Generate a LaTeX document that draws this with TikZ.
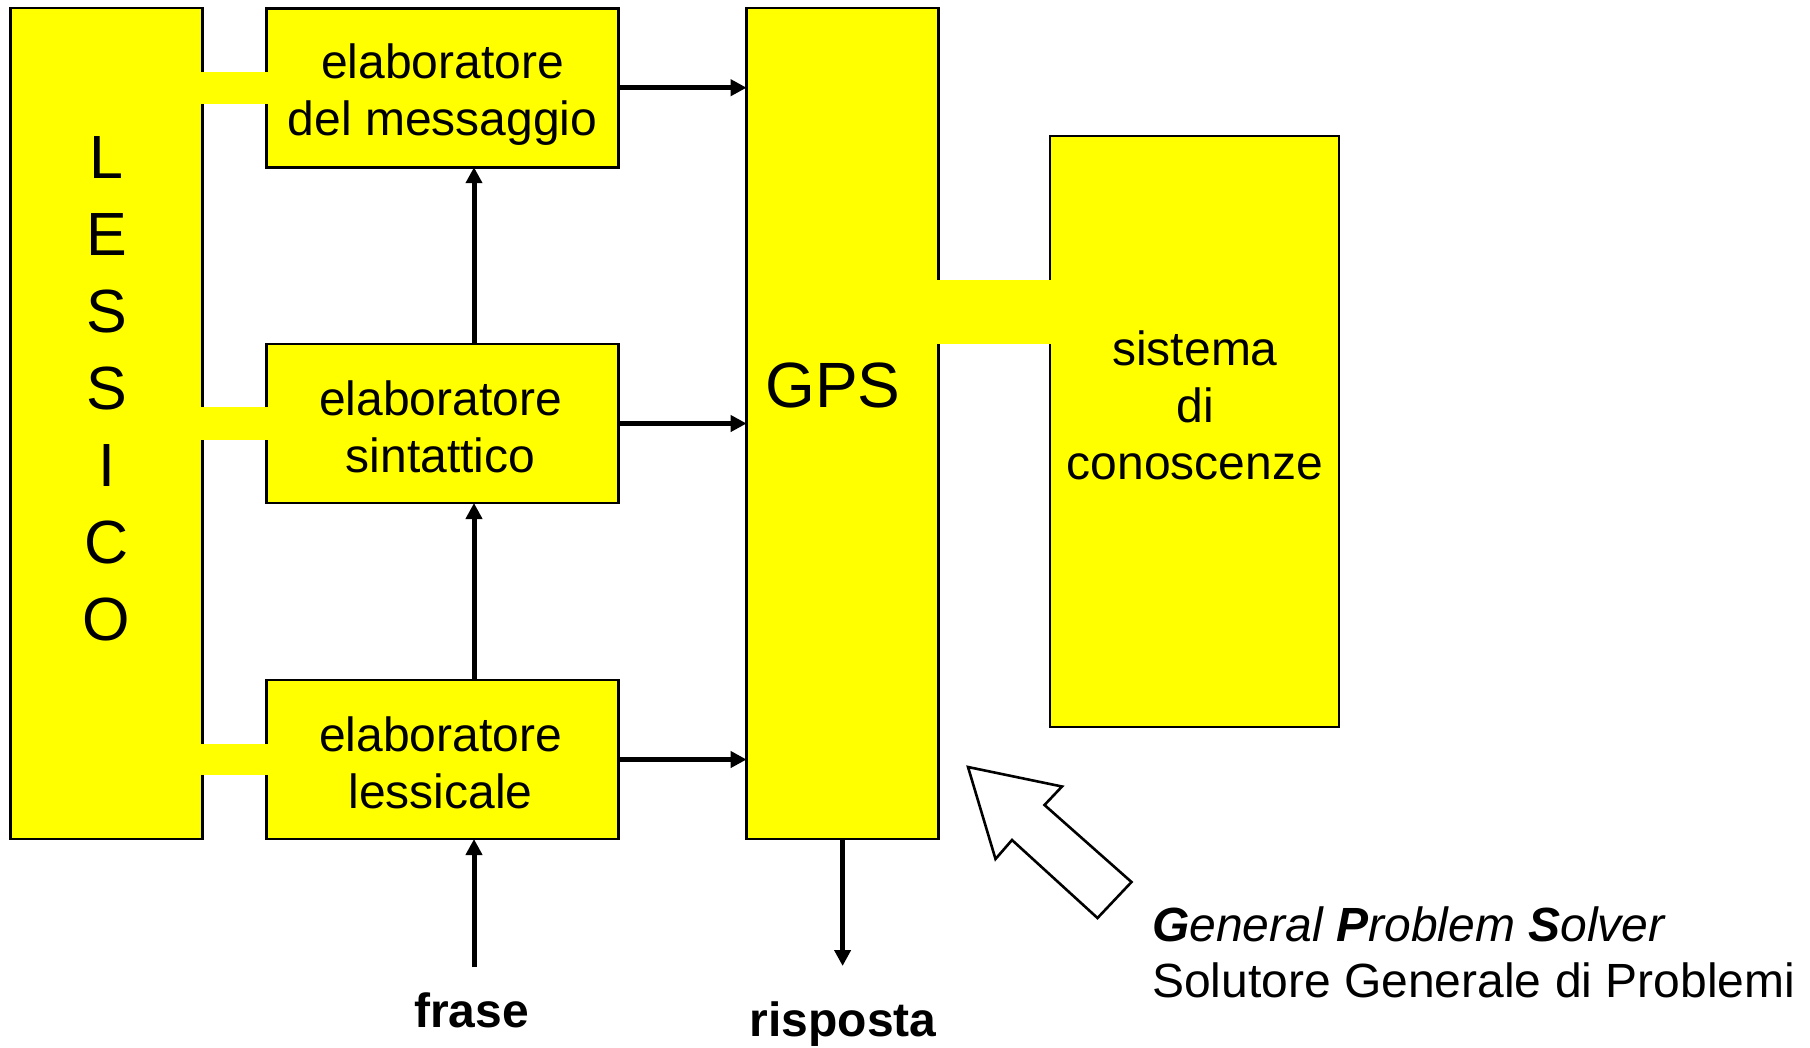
\documentclass[tikz,border=0pt]{standalone}
\usepackage{fontspec}
\setmainfont{Liberation Sans}
\usetikzlibrary{arrows.meta,calc}
\definecolor{blockyellow}{RGB}{255,255,0}
\begin{document}
\begin{tikzpicture}[x=1pt,y=-1pt,
  block/.style={draw=black, fill=blockyellow, line width=2.8pt, inner sep=0pt, outer sep=0pt},
  proc/.style={block, minimum width=352pt, minimum height=159pt, align=center,
               font=\fontsize{48}{57}\selectfont},
  tall/.style={block, minimum width=192pt, minimum height=831pt},
  bridge/.style={fill=blockyellow, draw=none},
  flow/.style={line width=5pt, -{Triangle[length=16pt,width=16pt]}},
  lbl/.style={font=\fontsize{48}{57}\selectfont, inner sep=0pt, align=center},
]
\useasboundingbox (0,0) rectangle (1810,1047);
\fill[white] (0,0) rectangle (1810,1047);

% main blocks
\node[tall] (lex) at (106.7,423.5) {};
\node[proc] (msg) at (442.6,87.7) {};
\node[proc] (syn) at (442.6,423.5) {};
\node[proc] (lxp) at (442.6,759.5) {};
\node[tall] (gps) at (842.6,423.5) {};
\node[block, minimum width=289pt, minimum height=591pt] (kb) at (1194.5,431.5) {};

% yellow bridges joining the blocks
\fill[bridge] ($(lex.east |- msg.center)+(-1.8,-16)$) rectangle ($(msg.west)+(1.8,16)$);
\fill[bridge] ($(lex.east |- syn.center)+(-1.8,-16.5)$) rectangle ($(syn.west)+(1.8,16.5)$);
\fill[bridge] ($(lex.east |- lxp.center)+(-1.8,-15.5)$) rectangle ($(lxp.west)+(1.8,15.5)$);
\fill[bridge] ($(gps.east |- 0,280)+(-1.8,0)$) rectangle ($(kb.west |- 0,344)+(1.8,0)$);

% texts of the blocks
\node[lbl] (msgtxt) at ($(msg.center)+(0,7)$) {elaboratore\\del messaggio};
\node[lbl] (syntxt) at ($(syn.center)+(-2,3)$) {elaboratore\\sintattico};
\node[lbl] (lxptxt) at ($(lxp.center)+(-2,3)$) {elaboratore\\lessicale};
\node[lbl, font=\fontsize{61}{77}\selectfont] (lextxt) at (106.5,388.6) {L\\E\\S\\S\\I\\C\\O};
\node[lbl, font=\fontsize{64}{77}\selectfont] (gpstxt) at (833,385) {GPS};
\node[lbl] (kbtxt) at (1195,405) {sistema\\di\\conoscenze};

% flows into GPS
\draw[flow] (msg.east) -- (msg.east -| gps.west);
\draw[flow] (syn.east) -- (syn.east -| gps.west);
\draw[flow] (lxp.east) -- (lxp.east -| gps.west);

% upward flows between processors
\draw[flow] ([xshift=31.4pt]syn.north) -- ([xshift=31.4pt]msg.south);
\draw[flow] ([xshift=31.4pt]lxp.north) -- ([xshift=31.4pt]syn.south);

% input and output
\coordinate (fin) at (474,967);
\draw[flow] (fin) -- (fin |- lxp.south);
\node[lbl, font=\bfseries\fontsize{48}{57}\selectfont, anchor=base] (frase) at (471.5,1027) {frase};

\coordinate (rout) at (842.6,966);
\draw[flow] (gps.south) -- (rout);
\node[lbl, font=\bfseries\fontsize{48}{57}\selectfont, anchor=base] (risp) at (843,1036) {risposta};

% hollow pointer arrow
\draw[line width=2.6pt, line join=miter, fill=white]
  (968,767) -- (1062,786.5) -- (1044.5,805) -- (1131.5,882)
  -- (1097.5,918) -- (1012,840) -- (995.5,859) -- cycle;

% caption
\node[lbl, anchor=base west, font=\itshape\fontsize{48}{57}\selectfont] (gpsname) at (1152,941)
  {{\bfseries G}eneral {\bfseries P}roblem {\bfseries S}olver};
\node[lbl, anchor=base west] (gpsit) at (1152,997) {Solutore Generale di Problemi};
\end{tikzpicture}
\end{document}
